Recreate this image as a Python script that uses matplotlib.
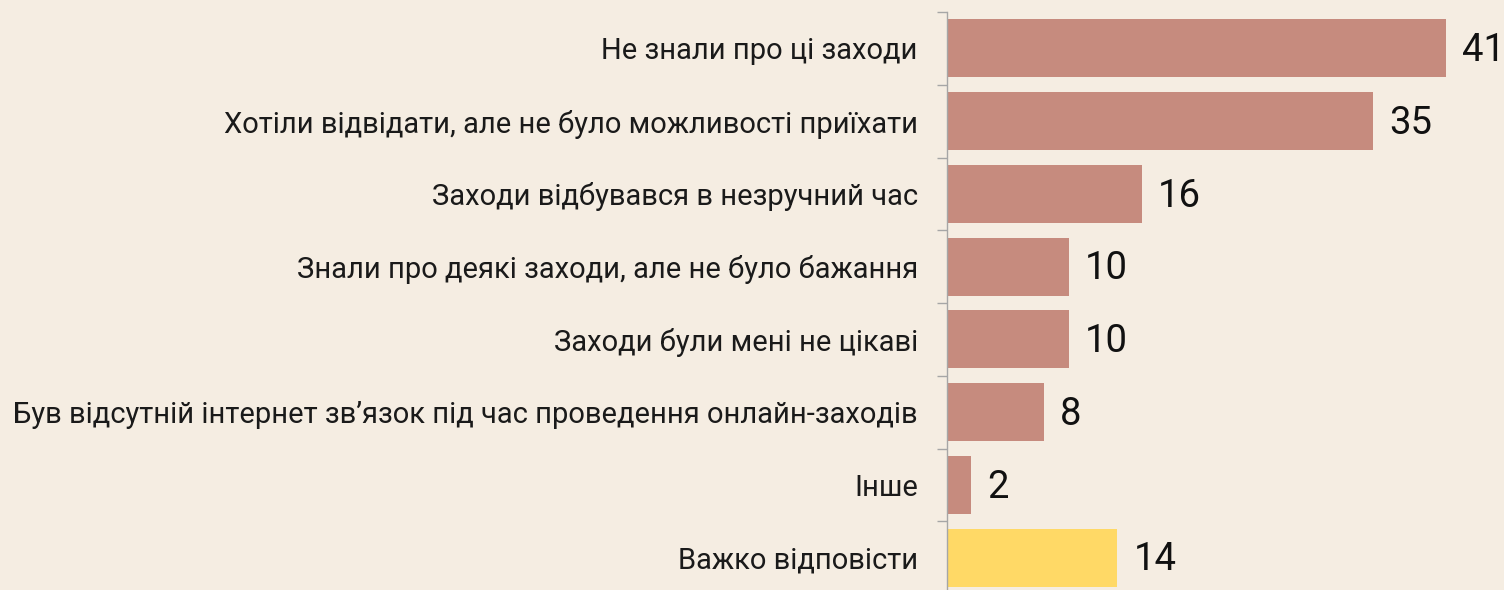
import matplotlib
matplotlib.use("Agg")
import matplotlib.pyplot as plt
import numpy as np

categories = [
    "Не знали про ці заходи",
    "Хотіли відвідати, але не було можливості приїхати",
    "Заходи відбувався в незручний час",
    "Знали про деякі заходи, але не було бажання",
    "Заходи були мені не цікаві",
    "Був відсутній інтернет зв’язок під час проведення онлайн-заходів",
    "Інше",
    "Важко відповісти",
]
values = [41, 35, 16, 10, 10, 8, 2, 14]
value_labels = ["41", "35", "16", "10", "10", "8", "2", "14"]

bg = "#F5EDE2"
bar_color = "#C68B7E"
hl_color = "#FFD966"
colors = [bar_color] * 7 + [hl_color]

plt.rcParams['font.family'] = ['Roboto', 'DejaVu Sans']

fig = plt.figure(figsize=(15.04, 5.9), dpi=100, facecolor=bg)
ax = fig.add_axes([947/1504, -4/590, 548/1504, 582/590], facecolor=bg)

y = np.arange(len(categories))
ax.barh(y, values, height=0.8, color=colors, zorder=2)
for yi, v, lab in zip(y, values, value_labels):
    ax.text(v + 1.3, yi + 0.03, lab, va='center', ha='left', fontsize=27.5, color='#111111')

ax.set_xlim(0, 45)
ax.set_ylim(len(categories) - 0.5, -0.5)
ax.set_yticks(y)
ax.set_yticklabels(categories, fontsize=21, color='#1a1a1a')
ax.set_yticks(np.arange(-0.5, len(categories)), minor=True)
ax.tick_params(axis='y', which='major', length=0, pad=21)
ax.tick_params(axis='y', which='minor', length=7, width=1, color='#A6A6A6', direction='out')
ax.set_xticks([])
for s in ['top', 'right', 'bottom']:
    ax.spines[s].set_visible(False)
ax.spines['left'].set_color('#A6A6A6')
ax.spines['left'].set_linewidth(1)

fig.savefig("out.png", dpi=100, facecolor=bg)
